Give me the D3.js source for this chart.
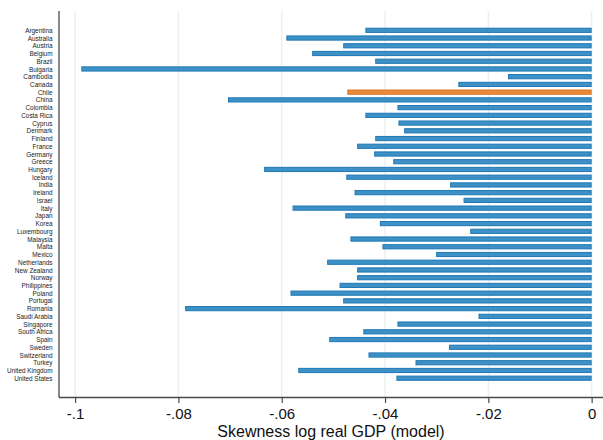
<!DOCTYPE html>
<html>
<head>
<meta charset="utf-8">
<script src="https://cdn.jsdelivr.net/npm/d3@7"></script>
<style>
  body { margin: 0; background: #fff; }
  svg { display: block; font-family: "Liberation Sans", Arial, sans-serif; }
</style>
</head>
<body>
<div class="chart"></div>
<script>
const countries = ['Argentina', 'Australia', 'Austria', 'Belgium', 'Brazil', 'Bulgaria', 'Cambodia',
    'Canada', 'Chile', 'China', 'Colombia', 'Costa Rica', 'Cyprus', 'Denmark', 'Finland', 'France',
    'Germany', 'Greece', 'Hungary', 'Iceland', 'India', 'Ireland', 'Israel', 'Italy', 'Japan', 'Korea',
    'Luxembourg', 'Malaysia', 'Malta', 'Mexico', 'Netherlands', 'New Zealand', 'Norway', 'Philippines',
    'Poland', 'Portugal', 'Romania', 'Saudi Arabia', 'Singapore', 'South Africa', 'Spain', 'Sweden',
    'Switzerland', 'Turkey', 'United Kingdom', 'United States'];

const skewness = [-0.0438, -0.0591, -0.0481, -0.0541, -0.0419, -0.0988, -0.0162,
    -0.0258, -0.0473, -0.0704, -0.0376, -0.0438, -0.0374, -0.0363, -0.0419, -0.0454,
    -0.0421, -0.0384, -0.0634, -0.0475, -0.0274, -0.0459, -0.0248, -0.0579, -0.0477, -0.0410,
    -0.0235, -0.0467, -0.0405, -0.0301, -0.0512, -0.0454, -0.0454, -0.0488,
    -0.0583, -0.0481, -0.0787, -0.0219, -0.0376, -0.0442, -0.0508, -0.0276,
    -0.0432, -0.0341, -0.0568, -0.0378];

const highlight = 'Chile';
const xTicks = [-0.1, -0.08, -0.06, -0.04, -0.02, 0];
const xTickLabels = ['-.1', '-.08', '-.06', '-.04', '-.02', '0'];
const xTitle = 'Skewness log real GDP (model)';

const data = countries.map((c, i) => ({country: c, value: skewness[i]}));

const width = 603, height = 440;
const margin = ({left: 59, top: 11, bottom: 397.5});

const svg = d3.select('.chart')
    .append('svg')
    .attr('width', width)
    .attr('height', height);

const xScale = d3.scaleLinear()
    .domain([-0.10312, 0.0022])
    .range([margin.left, width]);

const yScale = d3.scalePoint()
    .domain(countries)
    .range([30.3, 378.2]);

const barH = 5.2;

// grid lines
svg.append('g')
    .selectAll('line')
    .data(xTicks)
    .enter()
    .append('line')
    .attr('x1', d => xScale(d))
    .attr('x2', d => xScale(d))
    .attr('y1', margin.top)
    .attr('y2', margin.bottom)
    .attr('stroke', '#eaf1f3')
    .attr('stroke-width', 1.5);

// bars
svg.append('g')
    .selectAll('rect')
    .data(data)
    .enter()
    .append('rect')
    .attr('x', d => xScale(d.value) + 0.5)
    .attr('y', d => yScale(d.country) - barH / 2 + 0.5)
    .attr('width', d => xScale(0) - xScale(d.value) - 1)
    .attr('height', barH - 1)
    .attr('fill', d => d.country === highlight ? '#ea8a3d' : '#3d91c6')
    .attr('stroke', d => d.country === highlight ? '#db711c' : '#1f78b4')
    .attr('stroke-width', 1);

// y axis
const yAxis = d3.axisLeft(yScale).tickSize(0).tickPadding(6.5);
svg.append('g')
    .attr('class', 'axis y-axis')
    .attr('transform', `translate(${margin.left},0)`)
    .call(yAxis)
    .call(g => g.select('.domain').remove())
    .call(g => g.selectAll('text')
        .attr('font-family', '"Liberation Sans", Arial, sans-serif')
        .attr('font-size', 6.4)
        .attr('fill', '#222'));

svg.append('line')
    .attr('x1', margin.left).attr('x2', margin.left)
    .attr('y1', margin.top).attr('y2', margin.bottom)
    .attr('stroke', '#4a4a4a')
    .attr('stroke-width', 1.3);

// x axis
const xAxis = d3.axisBottom(xScale)
    .tickValues(xTicks)
    .tickSize(5.5)
    .tickPadding(5)
    .tickFormat((d, i) => xTickLabels[i]);

svg.append('g')
    .attr('class', 'axis x-axis')
    .attr('transform', `translate(0,${margin.bottom})`)
    .call(xAxis)
    .call(g => g.select('.domain').remove())
    .call(g => g.selectAll('.tick line').attr('stroke', '#4a4a4a').attr('stroke-width', 1.2))
    .call(g => g.selectAll('text')
        .attr('font-family', '"Liberation Sans", Arial, sans-serif')
        .attr('font-size', 15)
        .attr('fill', '#111'));

svg.append('line')
    .attr('x1', margin.left).attr('x2', width)
    .attr('y1', margin.bottom).attr('y2', margin.bottom)
    .attr('stroke', '#4a4a4a')
    .attr('stroke-width', 1.3);

svg.append('text')
    .attr('x', (margin.left + width) / 2)
    .attr('y', 437)
    .attr('text-anchor', 'middle')
    .attr('font-size', 16)
    .attr('fill', '#111')
    .text(xTitle);
</script>
</body>
</html>
